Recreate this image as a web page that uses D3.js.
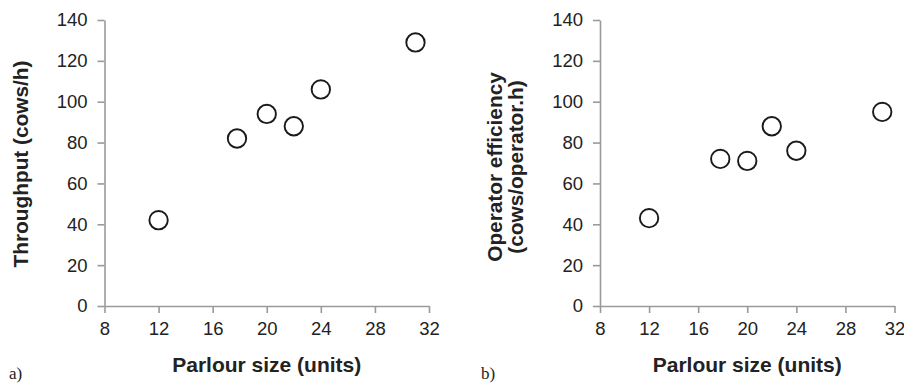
<!DOCTYPE html>
<html>
<head>
<meta charset="utf-8">
<script src="https://cdn.jsdelivr.net/npm/d3@7"></script>
<style>
  body { margin: 0; background: #fff; }
  text { font-family: "Liberation Sans", Arial, sans-serif; }
</style>
</head>
<body>
<div id="chart"></div>
<script>
// Parlour size (units) shared by both panels
var parlourSize = [12, 17.8, 20, 22, 24, 31];
// panel a) throughput, cows/h
var throughput = [42, 82, 94, 88, 106, 129];
// panel b) operator efficiency, cows/operator.h
var efficiency = [43, 72, 71, 88, 76, 95];

var xTicks = [8, 12, 16, 20, 24, 28, 32];
var yTicks = [0, 20, 40, 60, 80, 100, 120, 140];

var svg = d3.select("#chart")
  .append("svg")
  .attr("width", 904)
  .attr("height", 385);

// draw one scatter panel
function panel(left, right, values, titleLines, titleY, tag) {
  var top = 20, bottom = 306;

  var x = d3.scaleLinear().domain([8, 32]).range([left, right]);
  var y = d3.scaleLinear().domain([0, 140]).range([bottom, top]);

  var g = svg.append("g");

  var xAxis = g.append("g")
    .attr("transform", "translate(0," + bottom + ")")
    .call(d3.axisBottom(x).tickValues(xTicks).tickSize(7).tickSizeOuter(0).tickPadding(9));

  var yAxis = g.append("g")
    .attr("transform", "translate(" + left + ",0)")
    .call(d3.axisLeft(y).tickValues(yTicks).tickSize(7).tickSizeOuter(0).tickPadding(10));

  [xAxis, yAxis].forEach(function(a) {
    a.attr("font-size", null);
    a.selectAll("path, line").attr("stroke", "#9a9a9a").attr("stroke-width", 1.6);
    a.selectAll("text")
      .attr("fill", "#222")
      .style("font-size", "18.5px");
  });

  // circles
  g.selectAll("circle")
    .data(parlourSize.map(function(d, i) { return [d, values[i]]; }))
    .enter()
    .append("circle")
      .attr("cx", function(d) { return x(d[0]); })
      .attr("cy", function(d) { return y(d[1]); })
      .attr("r", 9.2)
      .attr("fill", "#fff")
      .attr("stroke", "#1a1a1a")
      .attr("stroke-width", 1.9);

  // x title
  g.append("text")
    .attr("x", (left + right) / 2)
    .attr("y", 372)
    .attr("text-anchor", "middle")
    .attr("fill", "#222")
    .style("font-size", "21px")
    .style("font-weight", "bold")
    .text("Parlour size (units)");

  // y title, one or two lines
  var lineGap = 21;
  titleLines.forEach(function(t, i) {
    var bx = titleLines.length === 1 ? left - 77 : left - 98 + i * lineGap;
    g.append("text")
      .attr("transform", "translate(" + bx + "," + titleY + ")rotate(-90)")
      .attr("text-anchor", "middle")
      .attr("fill", "#222")
      .style("font-size", "20.8px")
      .style("font-weight", "bold")
      .text(t);
  });

  // panel tag
  g.append("text")
    .attr("x", tag.x)
    .attr("y", 379)
    .attr("fill", "#222")
    .style("font-family", "Liberation Serif, Times New Roman, serif")
    .style("font-size", "17px")
    .text(tag.label);
}

panel(104.5, 429, throughput, ["Throughput (cows/h)"], 164, {x: 9, label: "a)"});
panel(600, 894.5, efficiency, ["Operator efficiency", "(cows/operator.h)"], 167, {x: 481, label: "b)"});
</script>
</body>
</html>
